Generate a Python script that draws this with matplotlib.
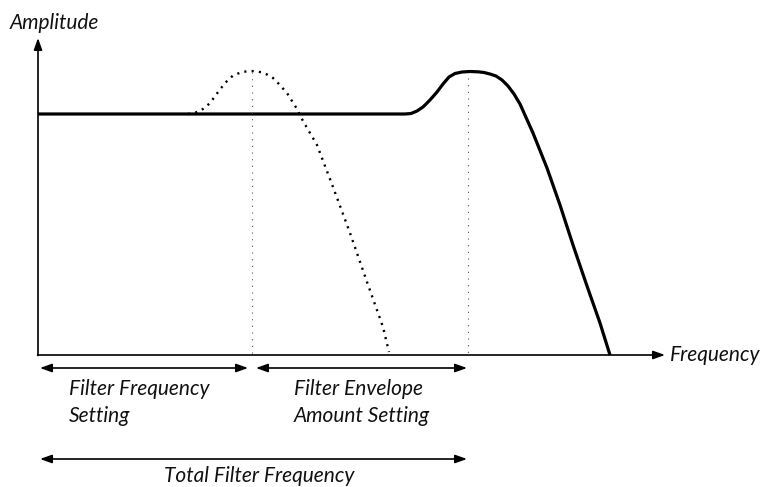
import matplotlib
matplotlib.use("Agg")
import matplotlib.pyplot as plt

W, H = 761, 487

# Response curve (x: frequency units, y: amplitude units, screen-like)
solid_x = [38, 405, 411, 417, 423, 430, 437, 443, 449, 455, 462, 470, 478, 484, 490, 496, 502, 508, 514,
           520, 533, 547, 560, 573, 587, 600, 610]
solid_y = [114, 114, 113.5, 111, 107, 100, 92, 84, 77, 73.5, 72, 71.5, 71.8, 72.5, 74, 76, 80, 86, 94,
           104, 133, 168, 205, 245, 286, 323, 355]

dotted_x = [188, 194, 200, 205, 210, 217, 225, 233, 242, 250, 256, 262, 267, 273, 278, 287, 297, 303,
            317, 333, 350, 367, 383, 389]
dotted_y = [114, 113, 111, 107.5, 103, 93.5, 83, 75.5, 72, 71, 71.2, 72.5, 74.5, 78, 83, 93, 109, 121,
            145, 187, 233, 282, 327, 352]

cutoff_x = [252, 468]
cutoff_top = [72, 78]

axis_origin = (38, 355)
axis_x_end = 665
axis_y_end = 38

font = "Lato"
fs = 15

fig = plt.figure(figsize=(W / 100, H / 100), dpi=100)
ax = fig.add_axes([0, 0, 1, 1])
ax.set_xlim(0, W)
ax.set_ylim(H, 0)
ax.axis("off")

ax.plot(solid_x, solid_y, color="black", lw=2.3, solid_capstyle="butt", solid_joinstyle="round")
ax.plot(dotted_x, dotted_y, color="black", lw=1.7, linestyle=(0, (0.9, 2.2)))

for cx, ct in zip(cutoff_x, cutoff_top):
    ax.plot([cx, cx], [ct, axis_origin[1]], color="#555555", lw=0.8, linestyle=(0, (1, 5)))

ap = dict(arrowstyle="-|>,head_length=0.7,head_width=0.25", color="black", lw=1.2,
          shrinkA=0, shrinkB=0)
ax.annotate("", xy=(axis_x_end, axis_origin[1]), xytext=(axis_origin[0] - 0.5, axis_origin[1]), arrowprops=ap)
ax.annotate("", xy=(axis_origin[0], axis_y_end), xytext=(axis_origin[0], axis_origin[1] + 0.5), arrowprops=ap)

dp = dict(arrowstyle="<|-|>,head_length=0.7,head_width=0.25", color="black", lw=1.2,
          shrinkA=0, shrinkB=0)
ax.annotate("", xy=(40, 368), xytext=(248, 368), arrowprops=dp)
ax.annotate("", xy=(256, 368), xytext=(467, 368), arrowprops=dp)
ax.annotate("", xy=(40, 459), xytext=(467, 459), arrowprops=dp)

tkw = dict(family=font, style="italic", fontsize=fs, color="#111111")
ax.text(10, 23, "Amplitude", ha="left", va="center", **tkw)
ax.text(670, 355, "Frequency", ha="left", va="center", **tkw)
ax.text(69, 395, "Filter Frequency", ha="left", va="baseline", **tkw)
ax.text(69, 422, "Setting", ha="left", va="baseline", **tkw)
ax.text(294, 395, "Filter Envelope", ha="left", va="baseline", **tkw)
ax.text(294, 422, "Amount Setting", ha="left", va="baseline", **tkw)
ax.text(259, 482, "Total Filter Frequency", ha="center", va="baseline", **tkw)

fig.savefig("out.png", dpi=100)
